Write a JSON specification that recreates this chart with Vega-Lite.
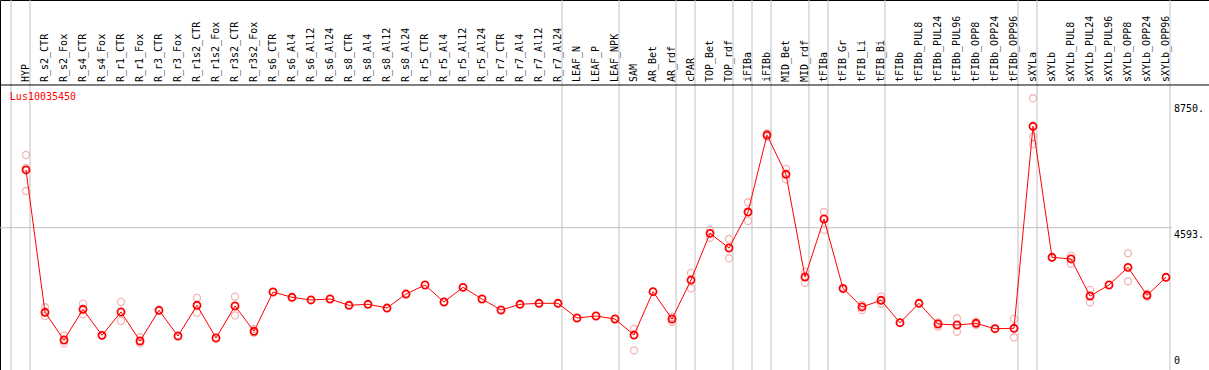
{
  "$schema": "https://vega.github.io/schema/vega-lite/v6.json",
  "width": 1209,
  "height": 370,
  "autosize": "none",
  "padding": 0,
  "background": "white",
  "config": {"view": {"stroke": "black", "strokeWidth": 1}},
  "datasets": {
    "means": [
      {"i": 0, "label": "HYP", "v": 6507},
      {"i": 1, "label": "R_s2_CTR", "v": 1790},
      {"i": 2, "label": "R_s2_Fox", "v": 872},
      {"i": 3, "label": "R_s4_CTR", "v": 1889},
      {"i": 4, "label": "R_s4_Fox", "v": 1027},
      {"i": 5, "label": "R_r1_CTR", "v": 1800},
      {"i": 6, "label": "R_r1_Fox", "v": 839},
      {"i": 7, "label": "R_r3_CTR", "v": 1856},
      {"i": 8, "label": "R_r3_Fox", "v": 1004},
      {"i": 9, "label": "R_r1s2_CTR", "v": 2022},
      {"i": 10, "label": "R_r1s2_Fox", "v": 938},
      {"i": 11, "label": "R_r3s2_CTR", "v": 1999},
      {"i": 12, "label": "R_r3s2_Fox", "v": 1160},
      {"i": 13, "label": "R_s6_CTR", "v": 2463},
      {"i": 14, "label": "R_s6_Al4", "v": 2287},
      {"i": 15, "label": "R_s6_Al12", "v": 2198},
      {"i": 16, "label": "R_s6_Al24", "v": 2231},
      {"i": 17, "label": "R_s8_CTR", "v": 2022},
      {"i": 18, "label": "R_s8_Al4", "v": 2055},
      {"i": 19, "label": "R_s8_Al12", "v": 1932},
      {"i": 20, "label": "R_s8_Al24", "v": 2396},
      {"i": 21, "label": "R_r5_CTR", "v": 2695},
      {"i": 22, "label": "R_r5_Al4", "v": 2131},
      {"i": 23, "label": "R_r5_Al12", "v": 2618},
      {"i": 24, "label": "R_r5_Al24", "v": 2231},
      {"i": 25, "label": "R_r7_CTR", "v": 1866},
      {"i": 26, "label": "R_r7_Al4", "v": 2055},
      {"i": 27, "label": "R_r7_Al12", "v": 2088},
      {"i": 28, "label": "R_r7_Al24", "v": 2088},
      {"i": 29, "label": "LEAF_N", "v": 1601},
      {"i": 30, "label": "LEAF_P", "v": 1667},
      {"i": 31, "label": "LEAF_NPK", "v": 1568},
      {"i": 32, "label": "SAM", "v": 1037},
      {"i": 33, "label": "AR_Bet", "v": 2473},
      {"i": 34, "label": "AR_rdf", "v": 1568},
      {"i": 35, "label": "cPAR", "v": 2860},
      {"i": 36, "label": "TOP_Bet", "v": 4408},
      {"i": 37, "label": "TOP_rdf", "v": 3921},
      {"i": 38, "label": "iFIBa", "v": 5114},
      {"i": 39, "label": "iFIBb", "v": 7666},
      {"i": 40, "label": "MID_Bet", "v": 6364},
      {"i": 41, "label": "MID_rdf", "v": 2960},
      {"i": 42, "label": "tFIBa", "v": 4882},
      {"i": 43, "label": "tFIB_Gr", "v": 2585},
      {"i": 44, "label": "tFIB_Li", "v": 1966},
      {"i": 45, "label": "tFIB_Bi", "v": 2188},
      {"i": 46, "label": "tFIBb", "v": 1445},
      {"i": 47, "label": "tFIBb_PUL8", "v": 2088},
      {"i": 48, "label": "tFIBb_PUL24", "v": 1402},
      {"i": 49, "label": "tFIBb_PUL96", "v": 1369},
      {"i": 50, "label": "tFIBb_OPP8", "v": 1425},
      {"i": 51, "label": "tFIBb_OPP24", "v": 1246},
      {"i": 52, "label": "tFIBb_OPP96", "v": 1260},
      {"i": 53, "label": "sXYLa", "v": 7955},
      {"i": 54, "label": "sXYLb", "v": 3613},
      {"i": 55, "label": "sXYLb_PUL8", "v": 3557},
      {"i": 56, "label": "sXYLb_PUL24", "v": 2330},
      {"i": 57, "label": "sXYLb_PUL96", "v": 2695},
      {"i": 58, "label": "sXYLb_OPP8", "v": 3281},
      {"i": 59, "label": "sXYLb_OPP24", "v": 2353},
      {"i": 60, "label": "sXYLb_OPP96", "v": 2950}
    ],
    "reps": [
      {"i": 0, "v": 7004}, {"i": 0, "v": 6573}, {"i": 0, "v": 5810},
      {"i": 1, "v": 1956}, {"i": 1, "v": 1667},
      {"i": 2, "v": 1014}, {"i": 2, "v": 762},
      {"i": 3, "v": 2075}, {"i": 3, "v": 1724},
      {"i": 5, "v": 2131}, {"i": 5, "v": 1502},
      {"i": 6, "v": 961}, {"i": 6, "v": 762},
      {"i": 9, "v": 2264}, {"i": 9, "v": 1777},
      {"i": 11, "v": 2307}, {"i": 11, "v": 1690},
      {"i": 12, "v": 1236}, {"i": 12, "v": 1114},
      {"i": 32, "v": 1236}, {"i": 32, "v": 530},
      {"i": 34, "v": 1644}, {"i": 34, "v": 1478},
      {"i": 35, "v": 3093}, {"i": 35, "v": 2585},
      {"i": 36, "v": 4518}, {"i": 36, "v": 4262},
      {"i": 37, "v": 4219}, {"i": 37, "v": 3580},
      {"i": 38, "v": 5436}, {"i": 38, "v": 4816},
      {"i": 39, "v": 7723}, {"i": 39, "v": 7610},
      {"i": 40, "v": 6540}, {"i": 40, "v": 6198},
      {"i": 41, "v": 3136}, {"i": 41, "v": 2771},
      {"i": 42, "v": 5114}, {"i": 42, "v": 4518},
      {"i": 43, "v": 2550},
      {"i": 44, "v": 2032}, {"i": 44, "v": 1866},
      {"i": 45, "v": 2307}, {"i": 45, "v": 2075},
      {"i": 48, "v": 1458}, {"i": 48, "v": 1313},
      {"i": 49, "v": 1591}, {"i": 49, "v": 1147},
      {"i": 50, "v": 1478}, {"i": 50, "v": 1369},
      {"i": 52, "v": 1568}, {"i": 52, "v": 961},
      {"i": 53, "v": 8883}, {"i": 53, "v": 7610}, {"i": 53, "v": 7358},
      {"i": 55, "v": 3666}, {"i": 55, "v": 3401},
      {"i": 56, "v": 2529}, {"i": 56, "v": 2121},
      {"i": 58, "v": 3745}, {"i": 58, "v": 2817},
      {"i": 59, "v": 2300}, {"i": 59, "v": 2400}
    ],
    "groups": [
      {"last": -1}, {"last": 0}, {"last": 28}, {"last": 31}, {"last": 34},
      {"last": 35}, {"last": 37}, {"last": 38}, {"last": 39}, {"last": 41},
      {"last": 42}, {"last": 45}, {"last": 52}, {"last": 53}, {"last": 60}
    ],
    "yticks": [
      {"t": 8750, "txt": "8750."},
      {"t": 4593, "txt": "4593."}
    ]
  },
  "layer": [
    {
      "data": {"name": "groups"},
      "mark": {"type": "rule", "color": "#c0c0c0", "strokeWidth": 1, "xOffset": 4},
      "encoding": {
        "x": {"field": "last", "type": "quantitative", "scale": {"domain": [-1.36842, 62.26316], "nice": false, "zero": false}, "axis": null}
      }
    },
    {
      "data": {"values": [{}]},
      "mark": {"type": "rule", "color": "#c0c0c0", "strokeWidth": 1},
      "encoding": {
        "x": {"datum": -1.36842, "type": "quantitative", "scale": {"domain": [-1.36842, 62.26316], "nice": false, "zero": false}, "axis": null},
        "x2": {"datum": 60.316},
        "y": {"datum": 4593, "type": "quantitative", "scale": {"domain": [-122.6, 12141.2], "nice": false, "zero": false}, "axis": null}
      }
    },
    {
      "data": {"values": [{}]},
      "mark": {"type": "rule", "color": "black", "strokeWidth": 1},
      "encoding": {
        "y": {"datum": 9324, "type": "quantitative", "scale": {"domain": [-122.6, 12141.2], "nice": false, "zero": false}, "axis": null}
      }
    },
    {
      "data": {"name": "means"},
      "mark": {"type": "text", "angle": 270, "align": "left", "baseline": "middle", "font": "DejaVu Sans Mono", "fontSize": 10, "color": "black"},
      "encoding": {
        "x": {"field": "i", "type": "quantitative", "scale": {"domain": [-1.36842, 62.26316], "nice": false, "zero": false}, "axis": null},
        "y": {"datum": 9423, "type": "quantitative", "scale": {"domain": [-122.6, 12141.2], "nice": false, "zero": false}, "axis": null},
        "text": {"field": "label"}
      }
    },
    {
      "data": {"values": [{"name": "Lus10035450"}]},
      "mark": {"type": "text", "align": "left", "baseline": "middle", "font": "DejaVu Sans Mono", "fontSize": 10, "color": "red"},
      "encoding": {
        "x": {"datum": -0.85, "type": "quantitative", "scale": {"domain": [-1.36842, 62.26316], "nice": false, "zero": false}, "axis": null},
        "y": {"datum": 8926, "type": "quantitative", "scale": {"domain": [-122.6, 12141.2], "nice": false, "zero": false}, "axis": null},
        "text": {"field": "name"}
      }
    },
    {
      "data": {"name": "yticks"},
      "mark": {"type": "text", "align": "left", "baseline": "top", "font": "DejaVu Sans Mono", "fontSize": 10, "color": "black", "xOffset": 8, "dy": 2},
      "encoding": {
        "x": {"datum": 60, "type": "quantitative", "scale": {"domain": [-1.36842, 62.26316], "nice": false, "zero": false}, "axis": null},
        "y": {"field": "t", "type": "quantitative", "scale": {"domain": [-122.6, 12141.2], "nice": false, "zero": false}, "axis": null},
        "text": {"field": "txt"}
      }
    },
    {
      "data": {"values": [{"t": 0, "txt": "0"}]},
      "mark": {"type": "text", "align": "left", "baseline": "bottom", "font": "DejaVu Sans Mono", "fontSize": 10, "color": "black", "xOffset": 8},
      "encoding": {
        "x": {"datum": 60, "type": "quantitative", "scale": {"domain": [-1.36842, 62.26316], "nice": false, "zero": false}, "axis": null},
        "y": {"field": "t", "type": "quantitative", "scale": {"domain": [-122.6, 12141.2], "nice": false, "zero": false}, "axis": null},
        "text": {"field": "txt"}
      }
    },
    {
      "data": {"name": "reps"},
      "mark": {"type": "point", "shape": "circle", "filled": false, "size": 50, "stroke": "#f09898", "strokeWidth": 1.3},
      "encoding": {
        "x": {"field": "i", "type": "quantitative", "scale": {"domain": [-1.36842, 62.26316], "nice": false, "zero": false}, "axis": null},
        "y": {"field": "v", "type": "quantitative", "scale": {"domain": [-122.6, 12141.2], "nice": false, "zero": false}, "axis": null}
      }
    },
    {
      "data": {"name": "means"},
      "mark": {"type": "line", "color": "red", "strokeWidth": 1},
      "encoding": {
        "x": {"field": "i", "type": "quantitative", "scale": {"domain": [-1.36842, 62.26316], "nice": false, "zero": false}, "axis": null},
        "y": {"field": "v", "type": "quantitative", "scale": {"domain": [-122.6, 12141.2], "nice": false, "zero": false}, "axis": null}
      }
    },
    {
      "data": {"name": "means"},
      "mark": {"type": "point", "shape": "circle", "filled": false, "size": 50, "stroke": "red", "strokeWidth": 1.8, "opacity": 1},
      "encoding": {
        "x": {"field": "i", "type": "quantitative", "scale": {"domain": [-1.36842, 62.26316], "nice": false, "zero": false}, "axis": null},
        "y": {"field": "v", "type": "quantitative", "scale": {"domain": [-122.6, 12141.2], "nice": false, "zero": false}, "axis": null}
      }
    }
  ]
}
